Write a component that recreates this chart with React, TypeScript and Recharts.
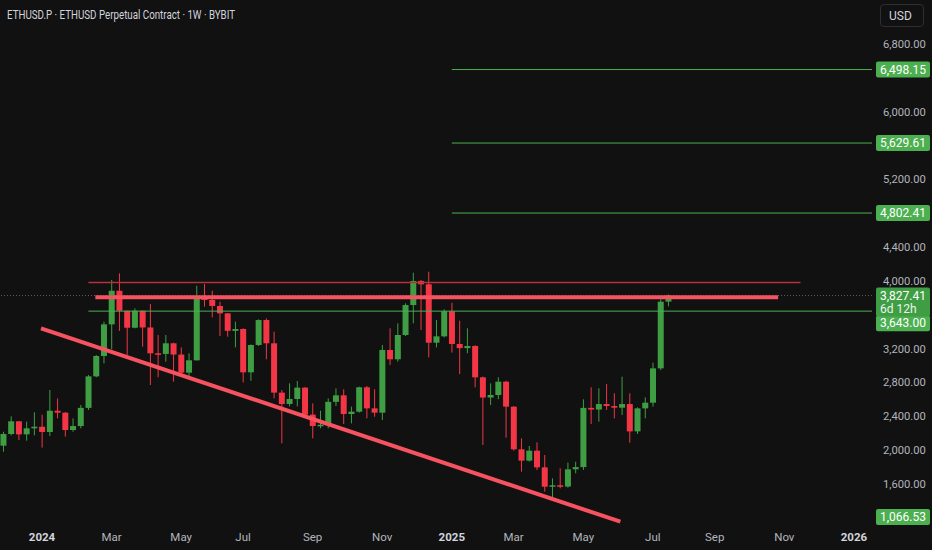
import React from 'react';
import { ComposedChart, Bar, XAxis, YAxis, ReferenceLine } from 'recharts';

// weekly ETHUSD.P candles, first bar = week of 2023-11-27
const startWeek = '2023-11-27';

const opens = [
  2053, 2191, 2341, 2187, 2258, 2277, 2215, 2466, 2443, 2238, 2285, 2500, 2872, 3113, 3487, 3884,
  3648, 3447, 3648, 3450, 3145, 3137, 3263, 3130, 2916, 3062, 3820, 3775, 3704, 3617, 3410, 3432,
  2920, 3243, 3538, 3263, 2680, 2546, 2605, 2739, 2420, 2285, 2300, 2571, 2648, 2427, 2455, 2743,
  2494, 2443, 3184, 3074, 3361, 3715, 4000, 3960, 3270, 3345, 3642, 3255, 3206, 3231, 2861, 2622,
  2652, 2809, 2514, 2010, 1876, 1994, 1797, 1568, 1585, 1570, 1774, 1800, 2500, 2480, 2545, 2522,
  2502, 2545, 2222, 2494, 2561, 2967, 3755,
];
const highs = [
  2218, 2400, 2345, 2337, 2447, 2420, 2711, 2612, 2450, 2376, 2534, 2888, 3125, 3518, 4011, 4090,
  3650, 3675, 3650, 3727, 3361, 3361, 3270, 3215, 3145, 3943, 3963, 3884, 3755, 3620, 3518, 3440,
  3250, 3546, 3558, 3400, 2711, 2790, 2817, 2745, 2553, 2466, 2612, 2730, 2719, 2514, 2751, 2758,
  2719, 3243, 3440, 3499, 3735, 4097, 4011, 4109, 3538, 3664, 3743, 3530, 3440, 3240, 2870, 2790,
  2861, 2821, 2520, 2140, 2049, 2093, 1943, 1667, 1786, 1853, 1864, 2601, 2743, 2731, 2781, 2672,
  2868, 2672, 2506, 2624, 3034, 3806, 3840,
];
const lows = [
  1982, 2175, 2120, 2112, 2175, 2030, 2167, 2376, 2160, 2218, 2258, 2475, 2861, 3026, 3192, 3410,
  3125, 3440, 3223, 2770, 2861, 3046, 2810, 2908, 2868, 3058, 3696, 3570, 3349, 3341, 3215, 2800,
  2820, 3231, 3074, 2613, 2080, 2518, 2518, 2415, 2140, 2258, 2258, 2522, 2309, 2317, 2443, 2376,
  2395, 2357, 3007, 3046, 3349, 3499, 3420, 3097, 3215, 3333, 3153, 2900, 3145, 2743, 2061, 2533,
  2601, 2148, 1995, 1746, 1865, 1766, 1509, 1419, 1549, 1557, 1727, 1766, 2309, 2337, 2475, 2376,
  2416, 2088, 2191, 2376, 2514, 2947, 3700,
];
const closes = [
  2191, 2341, 2187, 2258, 2277, 2215, 2466, 2443, 2238, 2285, 2500, 2872, 3113, 3487, 3884, 3648,
  3447, 3648, 3450, 3145, 3137, 3263, 3130, 2916, 3062, 3820, 3775, 3704, 3617, 3410, 3432, 2920,
  3243, 3538, 3263, 2680, 2546, 2605, 2739, 2420, 2285, 2300, 2571, 2648, 2427, 2455, 2743, 2494,
  2443, 3184, 3074, 3361, 3715, 4000, 3960, 3270, 3345, 3642, 3255, 3206, 3231, 2861, 2622, 2652,
  2809, 2514, 2010, 1876, 1994, 1797, 1568, 1585, 1570, 1774, 1800, 2500, 2480, 2545, 2522, 2502,
  2545, 2222, 2494, 2561, 2967, 3755, 3827.41,
];

const monthTickDates = [
  '2024-01-01', '2024-03-01', '2024-05-01', '2024-07-01', '2024-09-01', '2024-11-01',
  '2025-01-01', '2025-03-01', '2025-05-01', '2025-07-01', '2025-09-01', '2025-11-01', '2026-01-01',
];
const monthTickLabels = ['2024', 'Mar', 'May', 'Jul', 'Sep', 'Nov', '2025', 'Mar', 'May', 'Jul', 'Sep', 'Nov', '2026'];
const priceTicks = [1600, 2000, 2400, 2800, 3200, 4000, 4400, 5200, 6000, 6800];

// drawings (x in weeks from startWeek)
const targetLevels = [6498.15, 5629.61, 4802.41];
const targetsFromWeek = 58;
const supportLevel = 3643;
const resistanceTop = 3980;
const resistanceMain = 3808;
const levelsFromWeek = 11;
const resistanceMainFrom = 11.9;
const resistanceMainTo = 100.2;
const resistanceTopTo = 103.1;
const trendLine = [
  { week: 4.87, price: 3440 },
  { week: 79.8, price: 1155 },
];
const lastPrice = 3827.41;
const lastPriceTimer = '6d 12h';
const lowTag = 1066.53;

const X_DOMAIN: [number, number] = [-0.43, 112.34];
const Y_DOMAIN: [number, number] = [1092, 7320];

const UP = '#3f9e44';
const DOWN = '#f23645';
const LINE_RED = '#f7525f';
const TAG_GREEN = '#4caf50';
const BG = '#111111';
const TEXT = '#b2b5be';
const FONT = 'Roboto, "Noto Sans", sans-serif';

const DAY = 86400000;
const weekOf = (d: string) => Math.ceil((Date.parse(d) - Date.parse(startWeek)) / (7 * DAY));
const tickWeeks = monthTickDates.map(weekOf);
const tickLabelByWeek = new Map(tickWeeks.map((w, i) => [w, monthTickLabels[i]]));

const candles = opens.map((o, i) => ({
  week: i,
  open: o,
  high: highs[i],
  low: lows[i],
  close: closes[i],
  range: [lows[i], highs[i]],
}));

const fmt = (v: number) => v.toLocaleString('en-US', { minimumFractionDigits: 2, maximumFractionDigits: 2 });

function Candle(props: any) {
  const { x, y, width, height, payload } = props;
  if (!payload) return null;
  const { open, close, high, low } = payload;
  const color = close >= open ? UP : DOWN;
  const top = Math.min(y, y + height);
  const h = Math.abs(height);
  const k = h / (high - low || 1);
  const cx = x + width / 2;
  const bTop = top + (high - Math.max(open, close)) * k;
  const bBot = top + (high - Math.min(open, close)) * k;
  return (
    <g>
      <line x1={cx} x2={cx} y1={top} y2={top + h} stroke={color} strokeWidth={1} />
      <rect x={cx - 3} y={bTop} width={6} height={Math.max(1.5, bBot - bTop)} fill={color} />
    </g>
  );
}

function TimeTick(props: any) {
  const { x, y, payload } = props;
  const label = tickLabelByWeek.get(payload.value) ?? '';
  const isYear = /^\d{4}$/.test(label);
  return (
    <text x={x} y={y} dy="0.71em" textAnchor="middle" fontSize={11.5} fontFamily={FONT}
      fontWeight={isYear ? 700 : 400} fill={isYear ? '#d1d4dc' : TEXT}>
      {label}
    </text>
  );
}

function PriceTag(props: any) {
  const { viewBox, text, sub, shift = 0, maxY, fill = TAG_GREEN } = props;
  if (!viewBox) return null;
  const right = viewBox.x + viewBox.width;
  let cy = viewBox.y + shift;
  if (maxY != null) cy = Math.min(cy, maxY);
  const h = sub ? 29 : 16;
  const top = sub ? cy - 8 : cy - h / 2;
  return (
    <g>
      <rect x={right + 4} y={top} width={54} height={h} rx={2} fill={fill} />
      <text x={right + 8} y={cy} dy="0.35em" fontSize={12} fontFamily={FONT} fill="#ffffff">{text}</text>
      {sub && (
        <text x={right + 8} y={cy + 13} dy="0.35em" fontSize={12} fontFamily={FONT} fill="#e8f5e9">{sub}</text>
      )}
    </g>
  );
}

export default function App() {
  return (
    <div style={{ position: 'absolute', left: 0, top: 0, width: 932, height: 550, background: BG, overflow: 'hidden' }}>
      <ComposedChart width={932} height={550} data={candles} margin={{ top: 0, right: 0, bottom: 0, left: 0 }}>
        <XAxis
          type="number"
          dataKey="week"
          domain={X_DOMAIN}
          allowDataOverflow
          ticks={tickWeeks}
          interval={0}
          axisLine={false}
          tickLine={false}
          tickSize={0}
          tickMargin={6}
          height={23}
          tick={<TimeTick />}
        />
        <YAxis
          orientation="right"
          type="number"
          domain={Y_DOMAIN}
          allowDataOverflow
          ticks={priceTicks}
          interval={0}
          width={60}
          axisLine={false}
          tickLine={false}
          tickSize={0}
          tickMargin={11}
          tickFormatter={fmt}
          tick={{ fill: TEXT, fontSize: 11.2, fontFamily: FONT }}
        />
        <Bar dataKey="range" barSize={6} shape={<Candle />} isAnimationActive={false} />

        {/* current price dotted line */}
        <ReferenceLine y={lastPrice} stroke="#5d5d5d" strokeDasharray="1 2" ifOverflow="visible" />

        {/* target levels */}
        {targetLevels.map((lv) => (
          <ReferenceLine key={lv} segment={[{ x: targetsFromWeek, y: lv }, { x: X_DOMAIN[1], y: lv }]}
            stroke={TAG_GREEN} strokeWidth={1} ifOverflow="visible" />
        ))}
        <ReferenceLine segment={[{ x: levelsFromWeek, y: supportLevel }, { x: X_DOMAIN[1], y: supportLevel }]}
          stroke={TAG_GREEN} strokeWidth={1} ifOverflow="visible" />

        {/* resistance */}
        <ReferenceLine segment={[{ x: levelsFromWeek, y: resistanceTop }, { x: resistanceTopTo, y: resistanceTop }]}
          stroke="#b2323e" strokeWidth={1.5} ifOverflow="visible" />
        <ReferenceLine segment={[{ x: resistanceMainFrom, y: resistanceMain }, { x: resistanceMainTo, y: resistanceMain }]}
          stroke={LINE_RED} strokeWidth={4} ifOverflow="visible" />

        {/* descending trend line */}
        <ReferenceLine segment={[{ x: trendLine[0].week, y: trendLine[0].price }, { x: trendLine[1].week, y: trendLine[1].price }]}
          stroke={LINE_RED} strokeWidth={4} ifOverflow="visible" />

        {/* axis price tags */}
        {targetLevels.map((lv) => (
          <ReferenceLine key={'t' + lv} y={lv} stroke="none" ifOverflow="visible" label={<PriceTag text={fmt(lv)} />} />
        ))}
        <ReferenceLine y={supportLevel} stroke="none" ifOverflow="visible" label={<PriceTag text={fmt(supportLevel)} shift={12} />} />
        <ReferenceLine y={lastPrice} stroke="none" ifOverflow="visible"
          label={<PriceTag text={fmt(lastPrice)} sub={lastPriceTimer} fill={UP} />} />
        <ReferenceLine y={lowTag} stroke="none" ifOverflow="visible" label={<PriceTag text={fmt(lowTag)} maxY={517} />} />
      </ComposedChart>

      <svg width={300} height={24} style={{ position: 'absolute', left: 0, top: 0 }}>
        <text x={7} y={19} fontFamily={FONT} fontSize={12} fill="#d1d4dc" textLength={228} lengthAdjust="spacingAndGlyphs">
          ETHUSD.P · ETHUSD Perpetual Contract · 1W · BYBIT
        </text>
      </svg>
      <div style={{
        position: 'absolute', left: 880, top: 4, width: 44, height: 23, boxSizing: 'border-box',
        border: '1px solid #2e2e2e', borderRadius: 4, fontFamily: FONT, fontSize: 12, color: '#d1d4dc',
        display: 'flex', alignItems: 'center', paddingLeft: 8,
      }}>
        USD
      </div>
    </div>
  );
}
